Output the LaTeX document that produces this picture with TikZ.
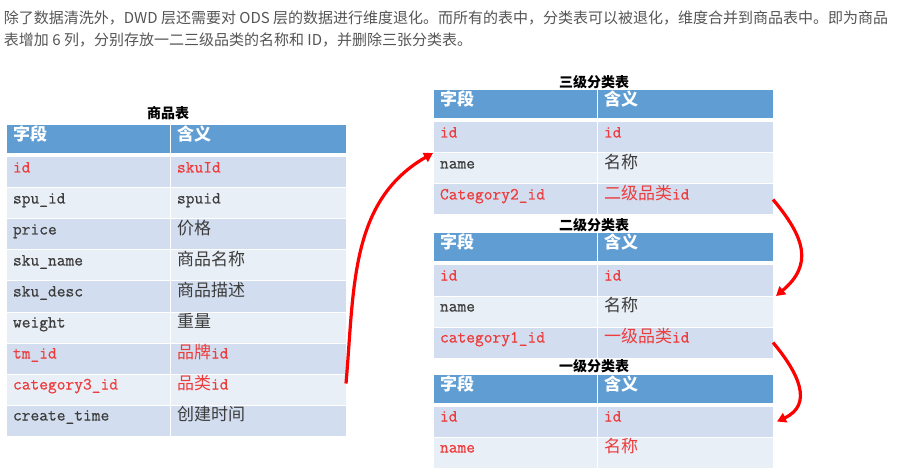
\documentclass[tikz,border=0pt]{standalone}
\usepackage{fontspec}
\usepackage{tikz}
\usetikzlibrary{arrows.meta,positioning}
\newfontfamily\cjk{Noto Sans CJK SC}
\newfontfamily\cellmono[FakeBold=0.6]{Latin Modern Mono}
\definecolor{hdrblue}{HTML}{5F9DD3}
\definecolor{rowdark}{HTML}{D2DEEF}
\definecolor{rowlight}{HTML}{E9EFF7}
\definecolor{redtxt}{HTML}{EE3B3B}
\definecolor{graytxt}{HTML}{3C3C3C}
\definecolor{paratxt}{HTML}{555555}

\begin{document}
\begin{tikzpicture}[x=1pt,y=1pt]
\tikzstyle{every node}+=[inner sep=0pt, outer sep=0pt]
\tikzstyle{cell}=[anchor=north west, inner xsep=7pt, text height=15.5pt, text depth=15.5pt, draw=white, line width=1pt, align=left, font=\fontsize{17}{20}\selectfont\cellmono, text=graytxt]
\tikzstyle{hdr}=[cell, fill=hdrblue, text=white, text height=16pt, text depth=13pt, font=\fontsize{17}{20}\selectfont\cjk\bfseries]
\tikzstyle{colA}=[text width=150pt]
\tikzstyle{colB}=[text width=162pt]
\tikzstyle{rowA}=[fill=rowdark]
\tikzstyle{rowB}=[fill=rowlight]
\tikzstyle{redrow}=[text=redtxt]
\tikzstyle{ttl}=[anchor=south, font=\fontsize{14}{16}\selectfont\cjk\bfseries, text=black]
\tikzstyle{para}=[anchor=base west, font=\fontsize{15}{18}\selectfont\cjk, text=paratxt]
\tikzstyle{link}=[draw=red, line width=3.2pt, -{Triangle[length=9pt,width=10pt]}]
\fill [white] (0,0) rectangle (900,-473);
\useasboundingbox (0,0) rectangle (900,-473);
% intro text
\node [para] (line1) at (4,-23.5) {除了数据清洗外，DWD 层还需要对 ODS 层的数据进行维度退化。而所有的表中，分类表可以被退化，维度合并到商品表中。即为商品};
\node [para] (line2) at (4,-45.5) {表增加 6 列，分别存放一二三级品类的名称和 ID，并删除三张分类表。};
% sku table
\node [hdr,colA] (s0a) at (6,-125) {字段};
\node [hdr,colB] (s0b) at (s0a.north east) {含义};
\node [ttl, above=5pt of s0a.north east, xshift=-2pt] (sttl) {商品表};
\node [cell,colA,rowA,redrow] (s1a) at ([yshift=-3pt]s0a.south west) {id};
\node [cell,colB,rowA,redrow] (s1b) at (s1a.north east) {skuId};
\node [cell,colA,rowB] (s2a) at (s1a.south west) {spu\_id};
\node [cell,colB,rowB] (s2b) at (s2a.north east) {spuid};
\node [cell,colA,rowA] (s3a) at (s2a.south west) {price};
\node [cell,colB,rowA] (s3b) at (s3a.north east) {{\cjk 价格}};
\node [cell,colA,rowB] (s4a) at (s3a.south west) {sku\_name};
\node [cell,colB,rowB] (s4b) at (s4a.north east) {{\cjk 商品名称}};
\node [cell,colA,rowA] (s5a) at (s4a.south west) {sku\_desc};
\node [cell,colB,rowA] (s5b) at (s5a.north east) {{\cjk 商品描述}};
\node [cell,colA,rowB] (s6a) at (s5a.south west) {weight};
\node [cell,colB,rowB] (s6b) at (s6a.north east) {{\cjk 重量}};
\node [cell,colA,rowA,redrow] (s7a) at (s6a.south west) {tm\_id};
\node [cell,colB,rowA,redrow] (s7b) at (s7a.north east) {{\cjk 品牌}id};
\node [cell,colA,rowB,redrow] (s8a) at (s7a.south west) {category3\_id};
\node [cell,colB,rowB,redrow] (s8b) at (s8a.north east) {{\cjk 品类}id};
\node [cell,colA,rowA] (s9a) at (s8a.south west) {create\_time};
\node [cell,colB,rowA] (s9b) at (s9a.north east) {{\cjk 创建时间}};
% level 3 table
\node [hdr,colA] (c30a) at (433,-90) {字段};
\node [hdr,colB] (c30b) at (c30a.north east) {含义};
\node [ttl, above=1pt of c30a.north east, xshift=-3pt] (c3ttl) {三级分类表};
\node [cell,colA,rowA,redrow] (c31a) at ([yshift=-3pt]c30a.south west) {id};
\node [cell,colB,rowA,redrow] (c31b) at (c31a.north east) {id};
\node [cell,colA,rowB] (c32a) at (c31a.south west) {name};
\node [cell,colB,rowB] (c32b) at (c32a.north east) {{\cjk 名称}};
\node [cell,colA,rowA,redrow] (c33a) at (c32a.south west) {Category2\_id};
\node [cell,colB,rowA,redrow] (c33b) at (c33a.north east) {{\cjk 二级品类}id};
% level 2 table
\node [hdr,colA] (c20a) at (433,-233) {字段};
\node [hdr,colB] (c20b) at (c20a.north east) {含义};
\node [ttl, above=1pt of c20a.north east, xshift=-3pt] (c2ttl) {二级分类表};
\node [cell,colA,rowA,redrow] (c21a) at ([yshift=-3pt]c20a.south west) {id};
\node [cell,colB,rowA,redrow] (c21b) at (c21a.north east) {id};
\node [cell,colA,rowB] (c22a) at (c21a.south west) {name};
\node [cell,colB,rowB] (c22b) at (c22a.north east) {{\cjk 名称}};
\node [cell,colA,rowA,redrow] (c23a) at (c22a.south west) {category1\_id};
\node [cell,colB,rowA,redrow] (c23b) at (c23a.north east) {{\cjk 一级品类}id};
% level 1 table
\node [hdr,colA] (c10a) at (433,-374) {字段};
\node [hdr,colB] (c10b) at (c10a.north east) {含义};
\node [ttl, above=1pt of c10a.north east, xshift=-3pt] (c1ttl) {一级分类表};
\node [cell,colA,rowA,redrow] (c11a) at ([yshift=-3pt]c10a.south west) {id};
\node [cell,colB,rowA,redrow] (c11b) at (c11a.north east) {id};
\node [cell,colA,rowB,redrow] (c12a) at (c11a.south west) {name};
\node [cell,colB,rowB,redrow] (c12b) at (c12a.north east) {{\cjk 名称}};
% arrows
\draw [link] ([yshift=6pt]s8b.east) to[out=85,in=210] (c31a.south west);
\draw [link] (c33b.east) to[out=-50,in=40,looseness=1.3] ([xshift=3pt]c21b.south east);
\draw [link] (c23b.east) to[out=-50,in=25,looseness=1.3] ([xshift=4pt]c11b.east);
\end{tikzpicture}
\end{document}
